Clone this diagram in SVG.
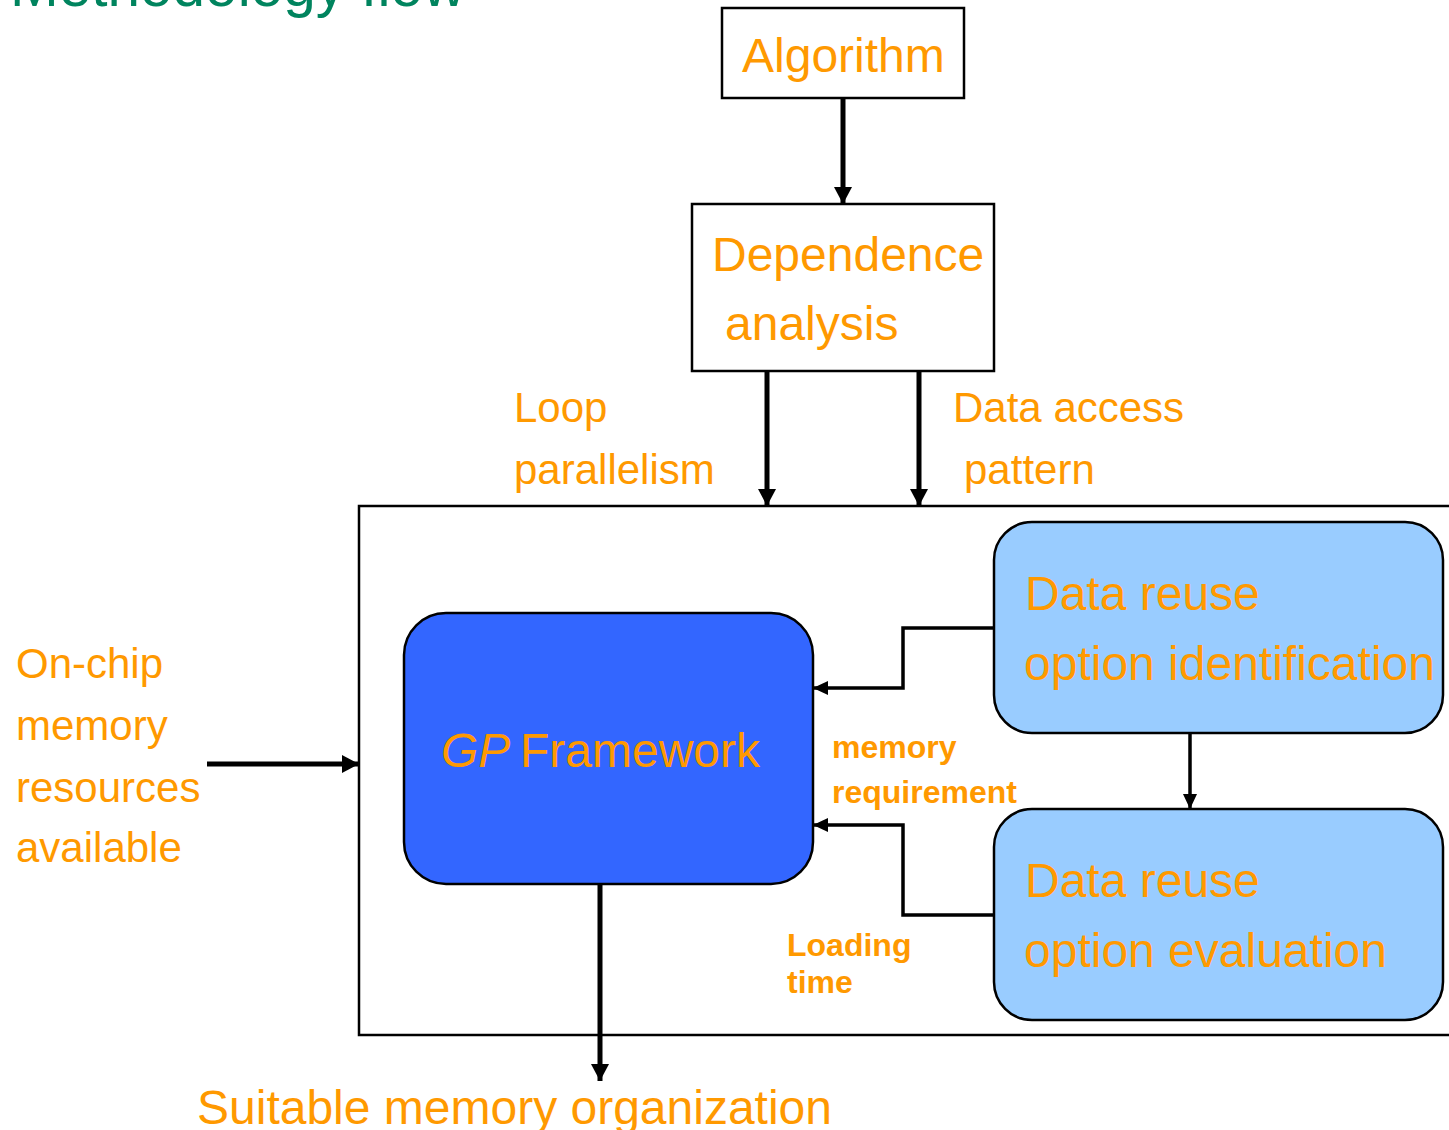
<svg xmlns="http://www.w3.org/2000/svg" width="1449" height="1130" viewBox="0 0 1449 1130">
  <style>
    .lbl { font-family: "Liberation Sans", Arial, sans-serif; fill: #FF9900; }
    .big { font-size: 48px; }
    .mid { font-size: 42px; }
    .small { font-size: 32px; font-weight: bold; }
    .title { font-family: "Liberation Sans", Arial, sans-serif; font-size: 58.5px; fill: #00845E; }
    .box { fill: #FFFFFF; stroke: #000000; stroke-width: 2.5; }
    .thick { fill: none; stroke: #000000; stroke-width: 5; }
    .thin { fill: none; stroke: #000000; stroke-width: 3.5; }
  </style>
  <defs>
    <marker id="headBig" markerUnits="userSpaceOnUse" markerWidth="19" markerHeight="19" refX="17" refY="9" orient="auto">
      <path d="M0,0 L17,9 L0,18 Z" fill="#000000"/>
    </marker>
    <marker id="headSmall" markerUnits="userSpaceOnUse" markerWidth="16" markerHeight="16" refX="15" refY="7" orient="auto">
      <path d="M0,0 L15,7 L0,14 Z" fill="#000000"/>
    </marker>
  </defs>

  <rect width="1449" height="1130" fill="#FFFFFF"/>

  <!-- heading, partly above the page edge -->
  <text class="title" x="10" y="6">Methodology flow</text>

  <!-- enclosing frame of the framework part -->
  <rect id="frame" class="box" x="359" y="506" width="1110" height="529" fill="none"/>

  <g id="algorithm">
    <rect class="box" x="722" y="8" width="242" height="90"/>
    <text class="lbl big" x="742" y="72">Algorithm</text>
  </g>

  <g id="dependence">
    <rect class="box" x="692" y="204" width="302" height="167"/>
    <text class="lbl big" x="712" y="271">Dependence</text>
    <text class="lbl big" x="725" y="340">analysis</text>
  </g>

  <g id="gp-framework">
    <rect x="404" y="613" width="409" height="271" rx="42" ry="42" fill="#3366FF" stroke="#000000" stroke-width="2.5"/>
    <text class="lbl big" x="441" y="767" font-style="italic">GP</text>
    <text class="lbl big" x="520" y="767" font-size="47.5">Framework</text>
  </g>

  <g id="reuse-identification">
    <rect x="994" y="522" width="449" height="211" rx="38" ry="38" fill="#99CCFF" stroke="#000000" stroke-width="2.5"/>
    <text class="lbl big" x="1025" y="610">Data reuse</text>
    <text class="lbl big" x="1024" y="680">option identification</text>
  </g>

  <g id="reuse-evaluation">
    <rect x="994" y="809" width="449" height="211" rx="38" ry="38" fill="#99CCFF" stroke="#000000" stroke-width="2.5"/>
    <text class="lbl big" x="1025" y="897">Data reuse</text>
    <text class="lbl big" x="1024" y="967">option evaluation</text>
  </g>

  <g id="labels">
    <text class="lbl mid" x="514" y="422">Loop</text>
    <text class="lbl mid" x="514" y="484">parallelism</text>
    <text class="lbl mid" x="953" y="422">Data access</text>
    <text class="lbl mid" x="964" y="484">pattern</text>
    <text class="lbl mid" x="16" y="678">On-chip</text>
    <text class="lbl mid" x="16" y="740">memory</text>
    <text class="lbl mid" x="16" y="802">resources</text>
    <text class="lbl mid" x="16" y="862">available</text>
    <text class="lbl small" x="832" y="758">memory</text>
    <text class="lbl small" x="832" y="803">requirement</text>
    <text class="lbl small" x="787" y="956">Loading</text>
    <text class="lbl small" x="787" y="993">time</text>
    <text class="lbl big" x="197" y="1124">Suitable memory organization</text>
  </g>

  <g id="connectors">
    <path class="thick" d="M843,98 L843,204" marker-end="url(#headBig)"/>
    <path class="thick" d="M767,371 L767,506" marker-end="url(#headBig)"/>
    <path class="thick" d="M919,371 L919,506" marker-end="url(#headBig)"/>
    <path class="thick" d="M207,764 L359,764" marker-end="url(#headBig)"/>
    <path class="thick" d="M600,884 L600,1081" marker-end="url(#headBig)"/>
    <path class="thin" d="M994,628 L903,628 L903,688 L813,688" marker-end="url(#headSmall)"/>
    <path class="thin" d="M994,915 L903,915 L903,825 L813,825" marker-end="url(#headSmall)"/>
    <path class="thin" d="M1190,733 L1190,809" marker-end="url(#headSmall)"/>
  </g>
</svg>
